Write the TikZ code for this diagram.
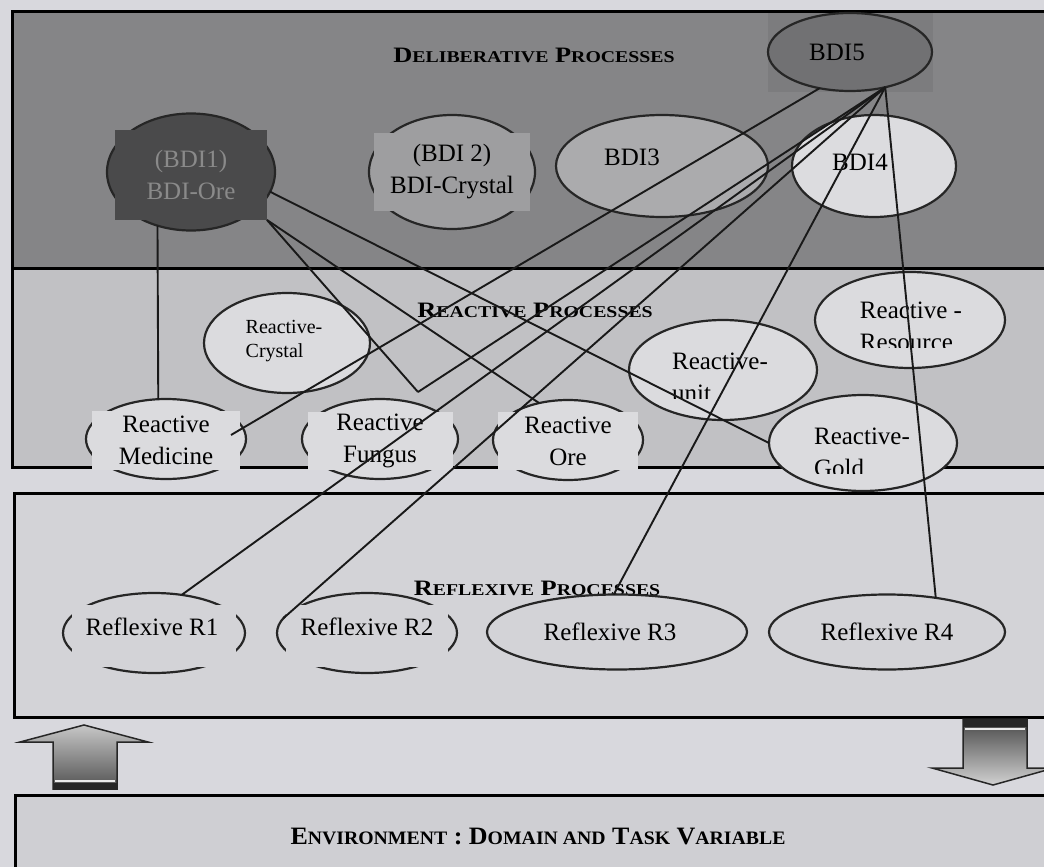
\documentclass[tikz,border=0pt]{standalone}
\usepackage{fontspec}
\usepackage{graphicx}
\setmainfont{Liberation Serif}
\usetikzlibrary{shapes.geometric}

\definecolor{paper}{HTML}{D8D8DD}
\definecolor{delibfill}{HTML}{858587}
\definecolor{reactfill}{HTML}{C1C1C4}
\definecolor{reflexfill}{HTML}{D3D3D7}
\definecolor{envfill}{HTML}{CFCFD3}
\definecolor{darkbdi}{HTML}{4A4A4B}
\definecolor{darktext}{HTML}{8A8A8A}
\definecolor{midbdi}{HTML}{717173}
\definecolor{bdibox}{HTML}{7C7C7E}
\definecolor{crystalbdi}{HTML}{9E9EA0}
\definecolor{greybdi}{HTML}{ABABAD}
\definecolor{palebdi}{HTML}{DCDCDF}
\definecolor{paleball}{HTML}{DBDBDE}

% small-caps headings built from two sizes
\newcommand{\laytitle}[1]{\scalebox{1.2}[1]{\fontsize{22}{22}\selectfont\bfseries #1}}
\newcommand{\laysmall}[1]{{\fontsize{16.5}{22}\selectfont #1}}
\newcommand{\envtitle}[1]{\scalebox{1.04}[1]{\fontsize{25}{25}\selectfont\bfseries #1}}
\newcommand{\envsmall}[1]{{\fontsize{19}{25}\selectfont #1}}

\tikzset{
  layer/.style={draw=black, line width=3pt},
  bubble/.style={ellipse, draw=black!85, line width=2.2pt, inner sep=0pt, outer sep=0pt},
  patch/.style={rectangle, inner sep=0pt, outer sep=0pt},
  txt/.style={font=\fontsize{25}{32}\selectfont, align=center, inner sep=0pt},
  smalltxt/.style={font=\fontsize{20}{24}\selectfont, align=left, inner sep=0pt},
  link/.style={draw=black!90, line width=1.9pt},
  heading/.style={inner sep=0pt},
  blockarrow/.style={draw=black!85, line width=1.5pt},
}

\begin{document}
\begin{tikzpicture}[x=1pt, y=-1pt]
\useasboundingbox (0,0) rectangle (1044,867);
\clip (0,0) rectangle (1044,867);
\fill[paper] (0,0) rectangle (1044,867);

% ---- the four layers
\draw[layer, fill=delibfill] (12,12) rectangle (1070,268);
\draw[layer, fill=reactfill] (12,268) rectangle (1070,467);
\draw[layer, fill=reflexfill] (14,493) rectangle (1070,717);
\draw[layer, fill=envfill] (15,795) rectangle (1070,900);

% ---- layer headings
\node[heading] (hdelib) at (534,55) {\laytitle{D\laysmall{ELIBERATIVE} P\laysmall{ROCESSES}}};
\node[heading] (hreact) at (535,310) {\laytitle{R\laysmall{EACTIVE} P\laysmall{ROCESSES}}};
\node[heading] (hreflex) at (537,588) {\laytitle{R\laysmall{EFLEXIVE} P\laysmall{ROCESSES}}};
\node[heading] (henv) at (538,836) {\envtitle{E\envsmall{NVIRONMENT} : D\envsmall{OMAIN AND} T\envsmall{ASK} V\envsmall{ARIABLE}}};

% ---- deliberative processes
\node[patch, fill=bdibox, minimum width=165, minimum height=79] (bdi5box) at (850.5,52.5) {};
\node[bubble, fill=midbdi, minimum width=164, minimum height=78,
      label={[txt, shift={(-13,0)}]center:BDI5}] (bdi5) at (850,52) {};

\node[bubble, fill=darkbdi, minimum width=168, minimum height=117] (bdi1) at (191,172) {};
\node[patch, fill=darkbdi, minimum width=152, minimum height=90, txt, text=darktext] (bdi1box) at (191,175) {(BDI1)\\BDI-Ore};

\node[bubble, fill=crystalbdi, minimum width=166, minimum height=114] (bdi2) at (452,172) {};
\node[patch, fill=crystalbdi, minimum width=156, minimum height=78, txt] (bdi2box) at (452,172) {(BDI 2)\\BDI-Crystal};

\node[bubble, fill=greybdi, minimum width=212, minimum height=102,
      label={[txt, shift={(-30,-9)}]center:BDI3}] (bdi3) at (662,166) {};
\node[bubble, fill=palebdi, minimum width=164, minimum height=102,
      label={[txt, shift={(-14,-4)}]center:BDI4}] (bdi4) at (874,166) {};

% ---- reactive processes
\node[bubble, fill=paleball, minimum width=166, minimum height=100] (crystal) at (287,343) {};
\node[smalltxt] (crystaltxt) at (284,341) {Reactive-\\Crystal};

\node[bubble, fill=paleball, minimum width=188, minimum height=100] (unit) at (723,370) {};
\begin{scope}
  \clip (600,300) rectangle (850,398);
  \node[txt, align=left] (unittxt) at (720,377) {Reactive-\\unit};
\end{scope}

\node[bubble, fill=paleball, minimum width=190, minimum height=96] (resource) at (910,320) {};
\begin{scope}
  \clip (800,270) rectangle (1044,347);
  \node[txt, align=left] (resourcetxt) at (911,326) {Reactive -\\Resource};
\end{scope}

\node[bubble, fill=paleball, minimum width=188, minimum height=96] (gold) at (863,443) {};
\begin{scope}
  \clip (760,400) rectangle (960,473);
  \node[txt, align=left] (goldtxt) at (862,452) {Reactive-\\Gold};
\end{scope}

\node[bubble, fill=paleball, minimum width=160, minimum height=80] (medicine) at (166,439) {};
\node[patch, fill=paleball, minimum width=148, minimum height=59, txt] (medicinebox) at (166,440.5) {Reactive\\Medicine};

\node[bubble, fill=paleball, minimum width=156, minimum height=80] (fungus) at (380,439) {};
\node[patch, fill=paleball, minimum width=145, minimum height=58, txt] (fungusbox) at (380,441) {Reactive\\Fungus};

\node[bubble, fill=paleball, minimum width=150, minimum height=80] (ore) at (568,440) {};
\node[patch, fill=paleball, minimum width=140, minimum height=58, txt] (orebox) at (568,441) {Reactive\\Ore};

% ---- reflexive processes
\node[bubble, fill=reflexfill, minimum width=182, minimum height=80] (r1) at (154,633) {};
\node[patch, fill=reflexfill, minimum width=164, minimum height=62,
      label={[txt, shift={(-2,-9)}]center:Reflexive R1}] (r1box) at (154,636) {};
\node[bubble, fill=reflexfill, minimum width=180, minimum height=80] (r2) at (367,633) {};
\node[patch, fill=reflexfill, minimum width=162, minimum height=62,
      label={[txt, shift={(0,-9)}]center:Reflexive R2}] (r2box) at (367,636) {};
\node[bubble, fill=reflexfill, minimum width=260, minimum height=75,
      label={[txt, shift={(-7,0)}]center:Reflexive R3}] (r3) at (617,632) {};
\node[bubble, fill=reflexfill, minimum width=236, minimum height=75,
      label={[txt]center:Reflexive R4}] (r4) at (887,632) {};

% ---- links between processes
\coordinate (fungustop) at ([shift={(38,-7)}]fungus.north);
\draw[link] (bdi1.238) -- (medicine.101);
\draw[link] (bdi1box.south east) -- (fungustop);
\draw[link] (bdi1box.south east) -- (ore.128);
\draw[link] (bdi1.-14) -- (gold.west);
\draw[link] (bdi5.-130) -- ([shift={(-15,-4)}]medicine.east);
\draw[link] (bdi5.-45) -- (fungustop);
\draw[link] (bdi5.-45) -- (r1.54);
\draw[link] (bdi5.-45) -- (r2.170);
\draw[link] (bdi5.-45) -- (r3.95);
\draw[link] (bdi5.-45) -- (r4.35);

% ---- block arrows to and from the environment
\draw[blockarrow, top color=black!22, bottom color=black!68]
  (53,789) -- (53,742) -- (20,742) -- (84,725) -- (148,742) -- (117,742) -- (117,789) -- cycle;
\fill[black!85] (53,783) rectangle (117,789);
\fill[black!8] (55,779.5) rectangle (115,781.5);

\draw[blockarrow, top color=black!72, bottom color=black!18]
  (963,719) -- (963,768) -- (932,768) -- (993,785) -- (1054,768) -- (1027,768) -- (1027,719) -- cycle;
\fill[black!85] (963,719) rectangle (1027,727);
\fill[black!8] (965,728) rectangle (1025,730);
\end{tikzpicture}
\end{document}
